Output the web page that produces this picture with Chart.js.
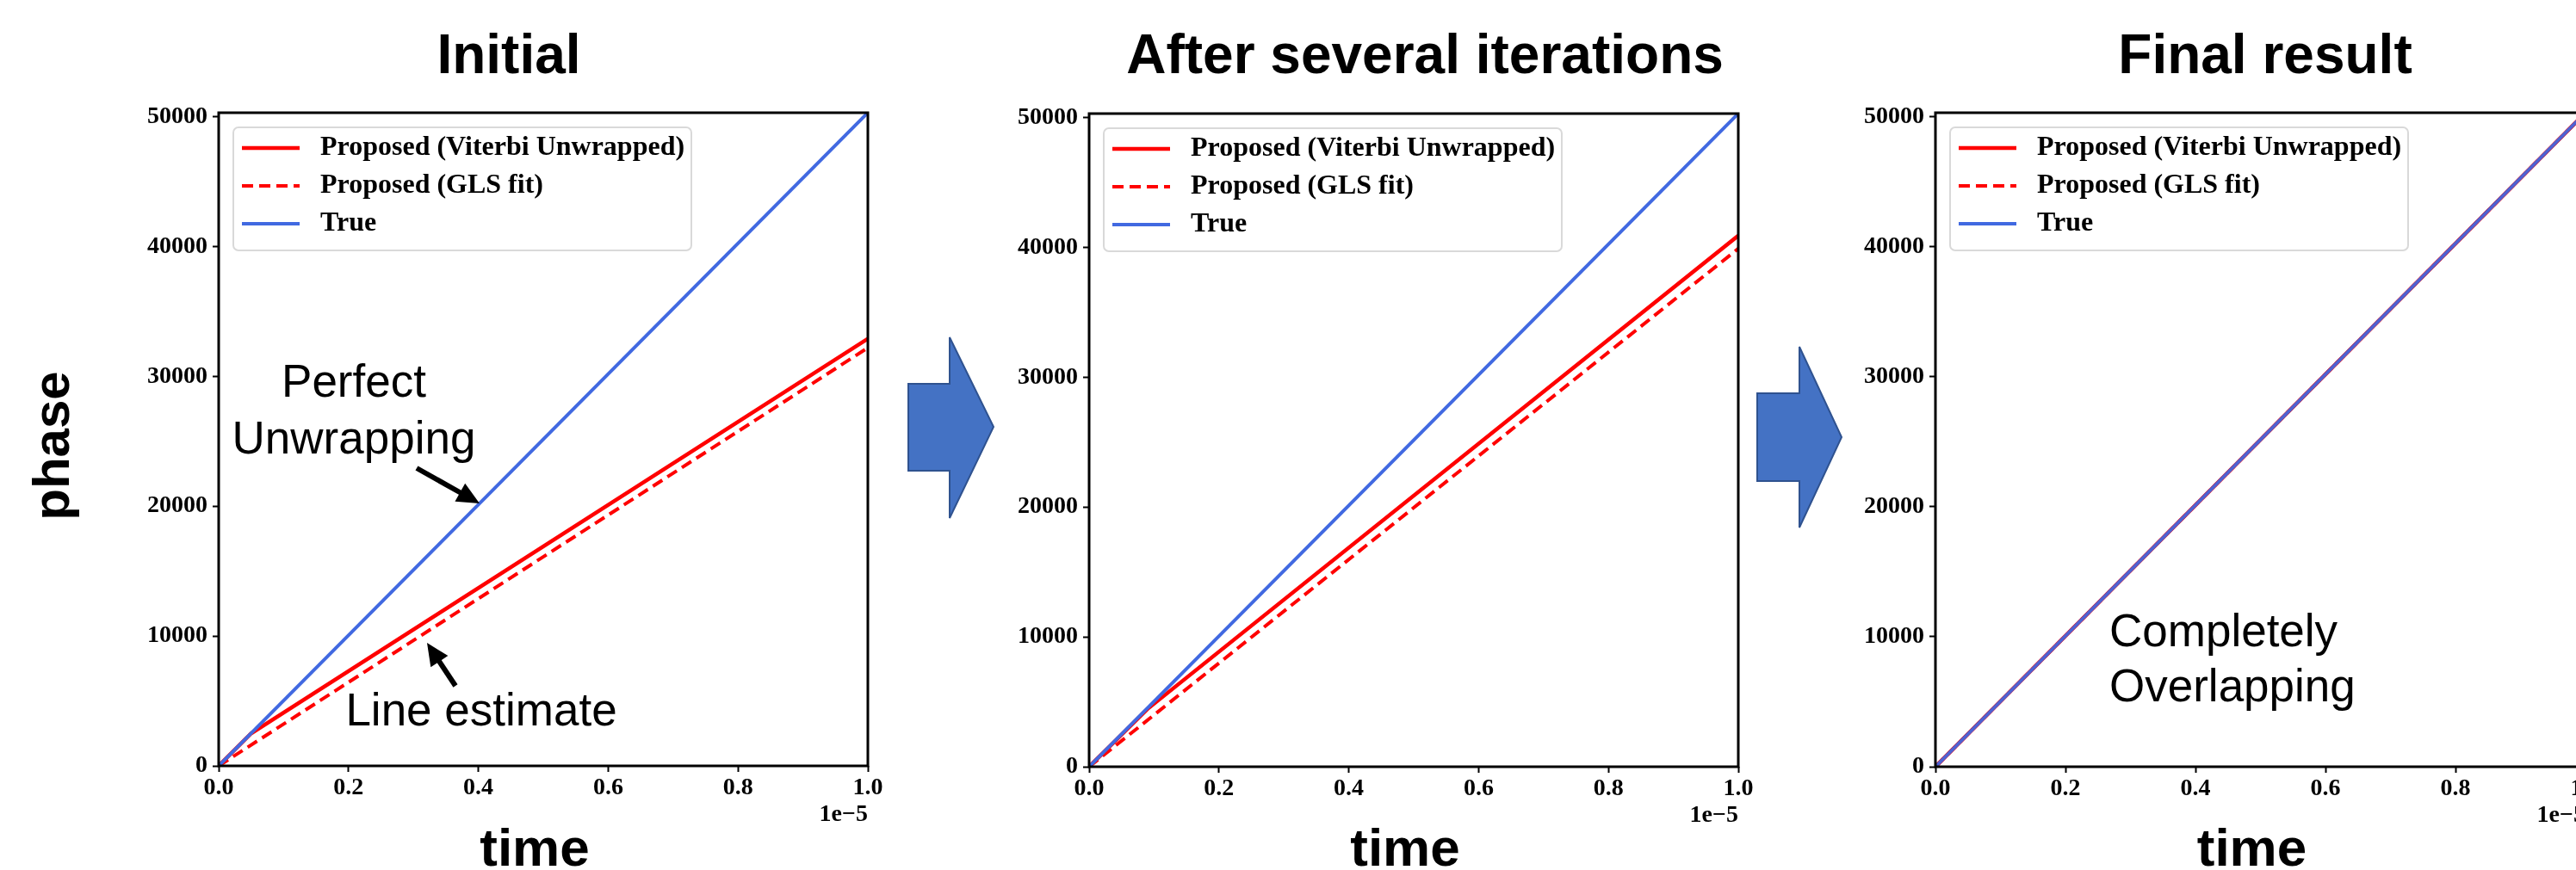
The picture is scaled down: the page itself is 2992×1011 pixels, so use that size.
<!DOCTYPE html>
<html>
<head>
<meta charset="utf-8">
<script src="https://cdn.jsdelivr.net/npm/chart.js@4.4.1/dist/chart.umd.min.js"></script>
<style>
html, body { margin: 0; padding: 0; width: 2992px; height: 1011px; overflow: hidden; background: #fff; }
canvas { position: absolute; }
#overlay { position: absolute; left: 0; top: 0; pointer-events: none; }
</style>
</head>
<body>
<canvas id="c1"></canvas>
<canvas id="c2"></canvas>
<canvas id="c3"></canvas>
<svg id="overlay" width="2992" height="1011" xmlns="http://www.w3.org/2000/svg"></svg>
<script>
// axis ticks (time in seconds, shown in units of 1e-5)
const xTicks = [0, 0.2e-5, 0.4e-5, 0.6e-5, 0.8e-5, 1.0e-5];
const yTicks = [0, 10000, 20000, 30000, 40000, 50000];
const xMax = 1e-5;
const yMax = 50300;

const seriesLabels = ['Proposed (Viterbi Unwrapped)', 'Proposed (GLS fit)', 'True'];
const panelTitles = ['Initial', 'After several iterations', 'Final result'];

// Initial
const viterbiT1 = [0, 0.05e-5, 1e-5];
const viterbiP1 = [0, 2500, 32900];
const glsT1 = [0, 1e-5];
const glsP1 = [0, 32200];

// After several iterations
const viterbiT2 = [0, 0.09e-5, 1e-5];
const viterbiP2 = [0, 4450, 40900];
const glsT2 = [0, 1e-5];
const glsP2 = [0, 39900];

// Final result
const viterbiT3 = [0, 1e-5];
const viterbiP3 = [0, 50300];
const glsT3 = [0, 1e-5];
const glsP3 = [0, 50300];

// true phase, same in every panel
const trueT = [0, 1e-5];
const trueP = [0, 50300];

const serif = "'Liberation Serif', 'Times New Roman', serif";
const sans = "'Liberation Sans', Arial, sans-serif";

const points = (ts, ps) => ts.map((t, i) => ({ x: t, y: ps[i] }));

// box around the plot, legend in the upper left, and the 1e-5 offset text
const framePlugin = {
  id: 'frame',
  afterDatasetsDraw(chart) {
    const a = chart.chartArea;
    const ctx = chart.ctx;
    ctx.save();
    ctx.strokeStyle = '#000';
    ctx.lineWidth = 3;
    ctx.strokeRect(a.left, a.top, a.right - a.left, a.bottom - a.top);

    const lx = a.left + 17, ly = a.top + 17;
    ctx.beginPath();
    ctx.roundRect(lx, ly, 532, 143, 6);
    ctx.fillStyle = 'rgba(255,255,255,0.85)';
    ctx.fill();
    ctx.strokeStyle = '#d9d9d9';
    ctx.lineWidth = 2;
    ctx.stroke();

    chart.data.datasets.forEach((ds, i) => {
      const y = ly + 24 + i * 44;
      ctx.beginPath();
      ctx.setLineDash(ds.borderDash || []);
      ctx.strokeStyle = ds.legendColor || ds.borderColor;
      ctx.lineWidth = ds.borderWidth;
      ctx.moveTo(lx + 10, y);
      ctx.lineTo(lx + 77, y);
      ctx.stroke();
      ctx.setLineDash([]);
      ctx.fillStyle = '#000';
      ctx.font = 'bold 32px ' + serif;
      ctx.textAlign = 'left';
      ctx.textBaseline = 'middle';
      ctx.fillText(ds.label, lx + 101, y);
    });

    ctx.font = 'bold 28px ' + serif;
    ctx.textAlign = 'right';
    ctx.textBaseline = 'middle';
    ctx.fillStyle = '#000';
    ctx.fillText('1e\u22125', a.right, a.bottom + 57);
    ctx.restore();
  }
};

function makeChart(id, box, viterbiT, viterbiP, glsT, glsP, trueColor) {
  const canvas = document.getElementById(id);
  canvas.width = 140 + box.w + 40;
  canvas.height = 30 + box.h + 80;
  canvas.style.left = (box.left - 140) + 'px';
  canvas.style.top = (box.top - 30) + 'px';
  canvas.style.width = canvas.width + 'px';
  canvas.style.height = canvas.height + 'px';

  const tickFont = { family: serif, size: 28, weight: 'bold' };
  return new Chart(canvas.getContext('2d'), {
    type: 'line',
    data: {
      datasets: [
        {
          label: seriesLabels[0],
          data: points(viterbiT, viterbiP),
          borderColor: '#ff0000',
          borderWidth: 4.5,
          order: 2
        },
        {
          label: seriesLabels[1],
          data: points(glsT, glsP),
          borderColor: '#ff0000',
          borderWidth: 4,
          borderDash: [13, 7],
          order: 1
        },
        {
          label: seriesLabels[2],
          data: points(trueT, trueP),
          borderColor: trueColor,
          legendColor: '#4169e1',
          borderWidth: 4,
          order: 0
        }
      ]
    },
    options: {
      responsive: false,
      animation: false,
      events: [],
      elements: {
        point: { radius: 0 },
        line: { tension: 0, fill: false, borderCapStyle: 'butt' }
      },
      layout: { padding: { left: 0, top: 30, right: 40, bottom: 0 } },
      plugins: {
        legend: { display: false },
        tooltip: { enabled: false }
      },
      scales: {
        x: {
          type: 'linear',
          min: 0,
          max: xMax,
          afterBuildTicks: s => { s.ticks = xTicks.map(v => ({ value: v })); },
          afterFit: s => { s.height = 80; },
          ticks: {
            font: tickFont,
            color: '#000',
            padding: 2,
            autoSkip: false,
            maxRotation: 0,
            callback: v => (v / 1e-5).toFixed(1)
          },
          grid: { drawOnChartArea: false, drawTicks: true, tickLength: 7, tickWidth: 2, tickColor: '#000' },
          border: { display: false }
        },
        y: {
          type: 'linear',
          min: 0,
          max: yMax,
          afterBuildTicks: s => { s.ticks = yTicks.map(v => ({ value: v })); },
          afterFit: s => { s.width = 140; },
          ticks: {
            font: tickFont,
            color: '#000',
            padding: 6,
            autoSkip: false,
            callback: v => String(v)
          },
          grid: { drawOnChartArea: false, drawTicks: true, tickLength: 7, tickWidth: 2, tickColor: '#000' },
          border: { display: false }
        }
      }
    },
    plugins: [framePlugin]
  });
}

const boxes = [
  { left: 254, top: 131, w: 754, h: 759 },
  { left: 1265, top: 132, w: 754, h: 759 },
  { left: 2248, top: 131, w: 755, h: 760 }
];

makeChart('c1', boxes[0], viterbiT1, viterbiP1, glsT1, glsP1, '#4169e1');
makeChart('c2', boxes[1], viterbiT2, viterbiP2, glsT2, glsP2, '#4169e1');
makeChart('c3', boxes[2], viterbiT3, viterbiP3, glsT3, glsP3, 'rgba(65,105,225,0.93)');

// titles, axis labels, notes and arrows on top
const svg = document.getElementById('overlay');
const NS = 'http://www.w3.org/2000/svg';

function addText(str, x, y, size, weight, anchor, transform) {
  const t = document.createElementNS(NS, 'text');
  t.textContent = str;
  t.setAttribute('x', x);
  t.setAttribute('y', y);
  t.setAttribute('font-family', sans);
  t.setAttribute('font-size', size);
  t.setAttribute('font-weight', weight);
  t.setAttribute('text-anchor', anchor);
  t.setAttribute('fill', '#000');
  if (transform) t.setAttribute('transform', transform);
  svg.appendChild(t);
}

function addPoly(pts, fill, stroke) {
  const p = document.createElementNS(NS, 'polygon');
  p.setAttribute('points', pts.map(q => q.join(',')).join(' '));
  p.setAttribute('fill', fill);
  if (stroke) {
    p.setAttribute('stroke', stroke);
    p.setAttribute('stroke-width', 2);
  }
  svg.appendChild(p);
}

function blackArrow(x1, y1, x2, y2) {
  const dx = x2 - x1, dy = y2 - y1;
  const len = Math.hypot(dx, dy);
  const ux = dx / len, uy = dy / len;
  const head = 26, half = 12;
  const bx = x2 - ux * head, by = y2 - uy * head;
  const l = document.createElementNS(NS, 'line');
  l.setAttribute('x1', x1);
  l.setAttribute('y1', y1);
  l.setAttribute('x2', bx + ux * 2);
  l.setAttribute('y2', by + uy * 2);
  l.setAttribute('stroke', '#000');
  l.setAttribute('stroke-width', 6);
  svg.appendChild(l);
  addPoly([[x2, y2], [bx - uy * half, by + ux * half], [bx + uy * half, by - ux * half]], '#000');
}

addText(panelTitles[0], 591, 85, 64, 'bold', 'middle');
addText(panelTitles[1], 1655, 85, 64, 'bold', 'middle');
addText(panelTitles[2], 2631, 85, 64, 'bold', 'middle');

boxes.forEach(b => addText('time', b.left + b.w / 2 - 10, 1006, 62, 'bold', 'middle'));
addText('phase', 0, 0, 60, 'bold', 'middle', 'translate(80,518) rotate(-90)');

addText('Perfect', 411, 461, 53, 'normal', 'middle');
addText('Unwrapping', 411, 527, 53, 'normal', 'middle');
addText('Line estimate', 559, 843, 53, 'normal', 'middle');
addText('Completely', 2450, 751, 53, 'normal', 'start');
addText('Overlapping', 2450, 815, 53, 'normal', 'start');

blackArrow(484, 544, 557, 585);
blackArrow(529, 797, 496, 747);

addPoly([[1055, 446], [1103, 446], [1103, 392], [1154, 496], [1103, 602], [1103, 547], [1055, 547]], '#4472c4', '#2f528f');
addPoly([[2041, 457], [2090, 457], [2090, 403], [2139, 508], [2090, 613], [2090, 559], [2041, 559]], '#4472c4', '#2f528f');
</script>
</body>
</html>
